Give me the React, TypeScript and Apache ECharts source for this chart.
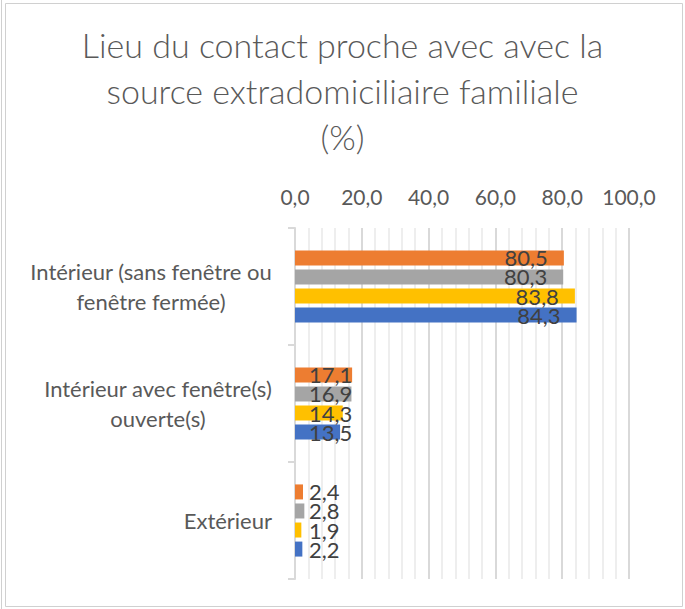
import React, { useEffect, useRef } from "react";
import * as echarts from "echarts";

const titleLines = [
  "Lieu du contact proche avec avec la",
  "source extradomiciliaire familiale",
  "(%)",
];
const categories = [
  "Intérieur (sans fenêtre ou\nfenêtre fermée)",
  "Intérieur avec fenêtre(s)\nouverte(s)",
  "Extérieur",
];
const seriesNames = ["Série 4", "Série 3", "Série 2", "Série 1"];
const seriesColors = ["#ED7D31", "#A5A5A5", "#FFC000", "#4472C4"];
const orangeValues = [80.5, 17.1, 2.4];
const grayValues = [80.3, 16.9, 2.8];
const yellowValues = [83.8, 14.3, 1.9];
const blueValues = [84.3, 13.5, 2.2];
const seriesValues = [orangeValues, grayValues, yellowValues, blueValues];
const xTicks = { min: 0, max: 100, interval: 20 };

const FONT = "Lato";
const fmt = (v: number) => v.toFixed(1).replace(".", ",");

export default function App() {
  const ref = useRef<HTMLDivElement>(null);
  useEffect(() => {
    if (!ref.current) return;
    const chart = echarts.init(ref.current, undefined, { renderer: "svg" });
    const option: any = {
      animation: false,
      backgroundColor: "#ffffff",
      title: {
        text: titleLines.join("\n"),
        left: "center",
        top: 16,
        textStyle: {
          fontFamily: FONT,
          fontSize: 34,
          fontWeight: 300,
          color: "#595959",
          lineHeight: 46,
        },
      },
      graphic: [
        {
          type: "rect",
          shape: { x: 5.5, y: 3.5, width: 677, height: 603 },
          style: { fill: "none", stroke: "#d0d0d0", lineWidth: 1 },
          silent: true,
        },
        {
          type: "line",
          shape: { x1: 1.5, y1: 0, x2: 1.5, y2: 609 },
          style: { stroke: "#d0d0d0", lineWidth: 1 },
          silent: true,
        },
      ],
      grid: { left: 295, right: 56, top: 228, bottom: 30, containLabel: false },
      xAxis: {
        type: "value",
        position: "top",
        min: xTicks.min,
        max: xTicks.max,
        interval: xTicks.interval,
        axisLine: { show: false },
        axisTick: { show: false },
        axisLabel: {
          formatter: (v: number) => fmt(v),
          fontFamily: FONT,
          fontSize: 21,
          color: "#595959",
          margin: 21,
        },
        splitLine: { show: true, lineStyle: { color: "#d9d9d9", width: 2 } },
        minorTick: { show: false, splitNumber: 5 },
        minorSplitLine: { show: true, lineStyle: { color: "#eeeeee", width: 2 } },
      },
      yAxis: {
        type: "category",
        inverse: true,
        data: categories,
        axisLine: { show: true, lineStyle: { color: "#d9d9d9", width: 2 } },
        axisTick: { show: true, length: 7, lineStyle: { color: "#d9d9d9", width: 2 } },
        axisLabel: {
          align: "right",
          margin: 23,
          formatter: (v: string) =>
            v
              .split("\n")
              .map((l) => `{c|${l}}`)
              .join("\n"),
          rich: {
            c: {
              align: "center",
              fontFamily: FONT,
              fontSize: 22,
              lineHeight: 30,
              color: "#595959",
            },
          },
        },
        splitLine: { show: false },
      },
      series: seriesValues.map((vals, i) => ({
        name: seriesNames[i],
        type: "bar",
        barWidth: 15,
        barGap: "27%",
        itemStyle: { color: seriesColors[i] },
        data: vals.map((v) => ({
          value: v,
          label: {
            show: true,
            position: v > 25 ? "insideRight" : "insideLeft",
            distance: v > 25 ? 16 : 14,
            formatter: (p: any) => fmt(p.value),
            fontFamily: FONT,
            fontSize: 22,
            color: "#404040",
          },
        })),
      })),
    };
    chart.setOption(option);
    return () => chart.dispose();
  }, []);
  return (
    <div
      ref={ref}
      style={{ position: "fixed", left: 0, top: 0, width: 685, height: 609, background: "#fff" }}
    />
  );
}
